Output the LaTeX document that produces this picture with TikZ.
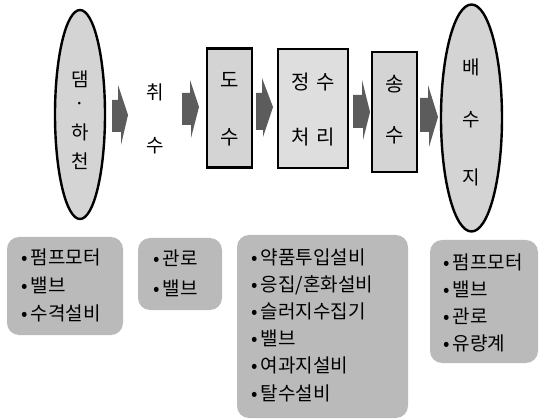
\documentclass[tikz,border=0pt]{standalone}
\usepackage{fontspec}
\setmainfont{Noto Sans CJK KR}
\usetikzlibrary{shapes.geometric}
\definecolor{shapegray}{HTML}{D4D4D4}
\definecolor{lightshape}{HTML}{DEDEDE}
\definecolor{listgray}{HTML}{BABABA}
\definecolor{arrowgray}{HTML}{5C5C5C}
\newcommand\bul{•\hspace{3pt}}
\begin{document}
\begin{tikzpicture}[x=1pt,y=-1pt,
  oval/.style={ellipse, draw=black, line width=2.4pt, fill=shapegray, inner sep=0pt},
  stage/.style={rectangle, draw=black, line width=2.4pt, fill=shapegray, inner sep=0pt},
  lbl/.style={font=\fontsize{20}{20}\selectfont, inner sep=0pt},
  olbl/.style={font=\fontsize{19}{19}\selectfont, inner sep=0pt},
  listbox/.style={rectangle, rounded corners=12pt, fill=listgray, inner sep=0pt},
  listtxt/.style={align=left, anchor=west, inner sep=0pt},
  flow/.style={fill=arrowgray, draw=none}]
\useasboundingbox (0,0) rectangle (542,420);

% source ellipse
\node[oval, minimum width=50pt, minimum height=209pt] (dam) at (80,114.5) {};
\node[olbl] (damA) at (80,79) {댐};
\node[olbl] (damB) at (80,106) {·};
\node[olbl] (damC) at (80,132) {하};
\node[olbl] (damD) at (80,161) {천};

% intake label
\node[olbl] (intA) at (155,92) {취};
\node[olbl] (intB) at (155,146) {수};

% stage boxes
\node[stage, minimum width=45pt, minimum height=119pt] (conv) at (229.5,108) {};
\node[lbl] (convA) at (230,80) {도};
\node[lbl] (convB) at (230,137) {수};

\node[stage, fill=lightshape, minimum width=70pt, minimum height=119pt] (treat) at (313,108.5) {};
\node[lbl] (treatA) at (313,82) {정\hspace{7pt}수};
\node[lbl] (treatB) at (313,137) {처\hspace{7pt}리};

\node[stage, minimum width=45pt, minimum height=120pt] (send) at (394.5,112) {};
\node[lbl] (sendA) at (394.5,84) {송};
\node[lbl] (sendB) at (394.5,135) {수};

% distribution reservoir
\node[oval, minimum width=61pt, minimum height=227pt] (res) at (471.5,118) {};
\node[olbl] (resA) at (471.5,67) {배};
\node[olbl] (resB) at (471.5,120) {수};
\node[olbl] (resC) at (471.5,177) {지};

% block arrows
\fill[flow] (112,100) -- (118,100) -- (118,85) -- (128,115) -- (121,145) -- (121,132) -- (112,132) -- cycle;
\fill[flow] (182,93) -- (190,93) -- (190,80) -- (199,107) -- (191,138) -- (191,125) -- (182,125) -- cycle;
\fill[flow] (256,93) -- (262,93) -- (262,78) -- (273,107) -- (263,137) -- (263,130) -- (256,130) -- cycle;
\fill[flow] (353,95) -- (362,95) -- (362,80) -- (370,112) -- (363,140) -- (363,128) -- (353,128) -- cycle;
\fill[flow] (420,98) -- (428,98) -- (428,85) -- (438,117) -- (429,147) -- (429,132) -- (420,132) -- cycle;

% equipment lists
\node[listbox, minimum width=116pt, minimum height=98pt] (listA) at (65,286) {};
\node[listtxt, font=\fontsize{19}{28}\selectfont] (txtA) at (21,285)
  {\bul 펌프모터\\\bul 밸브\\\bul 수격설비};

\node[listbox, minimum width=84pt, minimum height=72pt] (listB) at (180,274) {};
\node[listtxt, font=\fontsize{19}{30}\selectfont] (txtB) at (153,273)
  {\bul 관로\\\bul 밸브};

\node[listbox, minimum width=171pt, minimum height=183pt] (listC) at (322.5,326.5) {};
\node[listtxt, font=\fontsize{19}{27.2}\selectfont] (txtC) at (251,325)
  {\bul 약품투입설비\\\bul 응집/혼화설비\\\bul 슬러지수집기\\\bul 밸브\\\bul 여과지설비\\\bul 탈수설비};

\node[listbox, minimum width=108pt, minimum height=123pt] (listD) at (484,301.5) {};
\node[listtxt, font=\fontsize{19}{27}\selectfont] (txtD) at (443,302.5)
  {\bul 펌프모터\\\bul 밸브\\\bul 관로\\\bul 유량계};
\end{tikzpicture}
\end{document}
